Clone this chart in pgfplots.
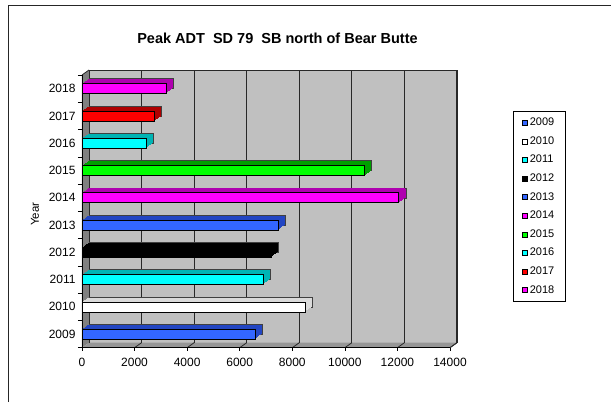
\documentclass[border=0pt]{standalone}
\usepackage{fontspec}
\setmainfont{Liberation Sans}
\usepackage{pgfplots}
\pgfplotsset{compat=1.18}

\definecolor{wall}{RGB}{192,192,192}
\definecolor{floorc}{RGB}{150,150,150}
\definecolor{sidec}{RGB}{128,128,128}
\definecolor{gridc}{RGB}{40,40,40}
\definecolor{blueF}{RGB}{51,102,255}
\definecolor{blueD}{RGB}{35,70,195}
\definecolor{magF}{RGB}{255,0,255}
\definecolor{magD}{RGB}{175,0,175}
\definecolor{greenF}{RGB}{0,255,0}
\definecolor{greenD}{RGB}{0,160,0}
\definecolor{cyanF}{RGB}{0,255,255}
\definecolor{cyanD}{RGB}{0,180,180}
\definecolor{redF}{RGB}{255,0,0}
\definecolor{redD}{RGB}{175,0,0}
\definecolor{whiteD}{RGB}{218,218,218}

% depth of the 3-D bars: several shifted copies behind the front face
\tikzset{
  d3/.style 2 args={preaction={draw=none, fill=#1, color=#1, transform canvas={shift={(#2)}}}},
  bar3d/.style={
    preaction={fill=#1, color=#1, draw=black!75, line width=0.4pt,
      transform canvas={shift={(7pt,5pt)}}},
    d3={#1}{6pt,4.29pt}, d3={#1}{5pt,3.57pt}, d3={#1}{4pt,2.86pt},
    d3={#1}{3pt,2.14pt}, d3={#1}{2pt,1.43pt}, d3={#1}{1pt,0.71pt},
  },
}

\begin{document}
\begin{tikzpicture}
\useasboundingbox (0pt,0pt) rectangle (611pt,402pt);
\draw[line width=1pt, black!85] (8pt,0pt) -- (8pt,396pt) -- (611pt,396pt);
\node[font=\bfseries\fontsize{14.5}{17}\selectfont, anchor=base] at (277.5pt,358pt)
  {Peak ADT\ \ SD 79\ \ SB north of Bear Butte};

\begin{axis}[
  at={(82pt,54.3pt)}, anchor=south west,
  width=368pt, height=272.7pt, scale only axis,
  xmin=0, xmax=14000, ymin=2008.5, ymax=2018.5,
  clip=false, axis on top,
  axis x line*=bottom, axis y line*=left,
  axis line style={black, line width=0.8pt, -},
  xtick={0,2000,...,14000},
  ytick={2009,...,2018},
  minor ytick={2008.5,2009.5,...,2018.5},
  major tick length=3pt, minor tick length=4pt,
  tick align=outside,
  ytick style={draw=none},
  minor y tick style={draw=black, line width=0.6pt},
  xtick style={black, line width=0.6pt},
  scaled x ticks=false,
  /pgf/number format/assume math mode=true,
  /pgf/number format/1000 sep={},
  yticklabel style={/pgf/number format/1000 sep={}},
  tick label style={font=\fontsize{12}{14}\selectfont},
  xticklabel style={yshift=-4pt},
  ylabel={Year},
  ylabel style={at={(axis description cs:-0.128,0.49)}, anchor=center,
    font=\fontsize{11.5}{13}\selectfont},
  legend cell align=left,
  legend style={at={(axis description cs:1.171,0.868)}, anchor=north west,
    draw=black, line width=0.8pt, fill=white,
    font=\fontsize{11}{13}\selectfont,
    inner xsep=9pt, inner ysep=2pt, row sep=0pt,
    nodes={minimum height=18.6pt, inner ysep=0pt}},
  legend image code/.code={
    \draw[#1, draw=black, line width=0.5pt] (-2pt,-2.5pt) rectangle (3pt,2.5pt);},
]
% back wall, floor and side wall
\fill[wall] ([shift={(7pt,5pt)}]axis cs:0,2008.5) rectangle ([shift={(7pt,5pt)}]axis cs:14000,2018.5);
\fill[sidec] (axis cs:0,2008.5) -- (axis cs:0,2018.5) -- ++(7pt,5pt)
  -- ([shift={(7pt,5pt)}]axis cs:0,2008.5) -- cycle;
\fill[floorc] (axis cs:0,2008.5) -- (axis cs:14000,2008.5) -- ++(7pt,5pt)
  -- ([shift={(7pt,5pt)}]axis cs:0,2008.5) -- cycle;
\pgfplotsinvokeforeach{2000,4000,6000,8000,10000,12000,14000}{
  \draw[gridc, line width=1.1pt] ([shift={(7pt,5pt)}]axis cs:#1,2008.5) -- ([shift={(7pt,5pt)}]axis cs:#1,2018.5);
  \draw[gridc, line width=0.8pt] (axis cs:#1,2008.5) -- ++(7pt,5pt);
}
\draw[gridc, line width=0.8pt] ([shift={(7pt,5pt)}]axis cs:0,2018.5) -- ([shift={(7pt,5pt)}]axis cs:14000,2018.5);
\draw[gridc, line width=0.8pt] (axis cs:0,2018.5) -- ++(7pt,5pt);
\draw[gridc, line width=0.8pt] ([shift={(7pt,5pt)}]axis cs:0,2008.5) -- ([shift={(7pt,5pt)}]axis cs:0,2018.5);
\draw[gridc, line width=0.8pt] (axis cs:14000,2008.5) -- ++(7pt,5pt);

% bars, one series per year
\addplot[xbar, bar width=10pt, bar shift=0pt, forget plot, fill=blueF, draw=black, line width=0.5pt, bar3d=blueD] coordinates {(6600,2009)};
\addplot[xbar, bar width=10pt, bar shift=0pt, forget plot, fill=white, draw=black, line width=0.5pt, bar3d=whiteD] coordinates {(8500,2010)};
\addplot[xbar, bar width=10pt, bar shift=0pt, forget plot, fill=cyanF, draw=black, line width=0.5pt, bar3d=cyanD] coordinates {(6900,2011)};
\addplot[xbar, bar width=10pt, bar shift=0pt, forget plot, fill=black, draw=black, line width=0.5pt, bar3d=black] coordinates {(7200,2012)};
\addplot[xbar, bar width=10pt, bar shift=0pt, forget plot, fill=blueF, draw=black, line width=0.5pt, bar3d=blueD] coordinates {(7450,2013)};
\addplot[xbar, bar width=10pt, bar shift=0pt, forget plot, fill=magF, draw=black, line width=0.5pt, bar3d=magD] coordinates {(12050,2014)};
\addplot[xbar, bar width=10pt, bar shift=0pt, forget plot, fill=greenF, draw=black, line width=0.5pt, bar3d=greenD] coordinates {(10750,2015)};
\addplot[xbar, bar width=10pt, bar shift=0pt, forget plot, fill=cyanF, draw=black, line width=0.5pt, bar3d=cyanD] coordinates {(2430,2016)};
\addplot[xbar, bar width=10pt, bar shift=0pt, forget plot, fill=redF, draw=black, line width=0.5pt, bar3d=redD] coordinates {(2760,2017)};
\addplot[xbar, bar width=10pt, bar shift=0pt, forget plot, fill=magF, draw=black, line width=0.5pt, bar3d=magD] coordinates {(3190,2018)};

\addlegendimage{fill=blueF}\addlegendentry{2009}
\addlegendimage{fill=white}\addlegendentry{2010}
\addlegendimage{fill=cyanF}\addlegendentry{2011}
\addlegendimage{fill=black}\addlegendentry{2012}
\addlegendimage{fill=blueF}\addlegendentry{2013}
\addlegendimage{fill=magF}\addlegendentry{2014}
\addlegendimage{fill=greenF}\addlegendentry{2015}
\addlegendimage{fill=cyanF}\addlegendentry{2016}
\addlegendimage{fill=redF}\addlegendentry{2017}
\addlegendimage{fill=magF}\addlegendentry{2018}
\end{axis}
\end{tikzpicture}
\end{document}
